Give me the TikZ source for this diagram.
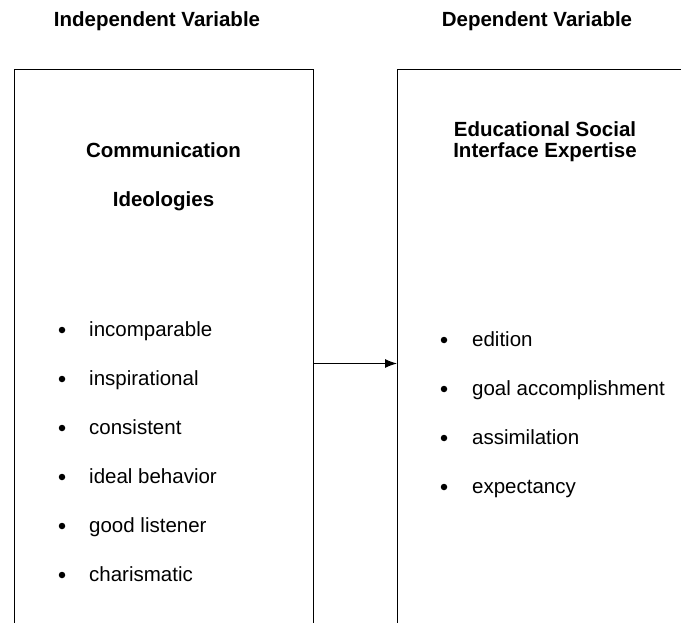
\documentclass[tikz,border=0pt]{standalone}
\usepackage{fontspec}
\setmainfont{Liberation Sans}
\usetikzlibrary{arrows.meta,positioning}

\tikzset{Boite/.style={draw,black,line width=1pt,rectangle,minimum width=299pt,minimum height=588pt,anchor=north west,inner sep=0pt}}
\tikzset{Titre/.style={font=\fontsize{20.5}{20}\selectfont\bfseries,anchor=base,inner sep=0pt}}
\tikzset{Item/.style={font=\fontsize{20.5}{20}\selectfont,anchor=base west,inner sep=0pt}}
\tikzset{Puce/.style={fill=black,circle,minimum size=6.5pt,inner sep=0pt}}

\begin{document}
\begin{tikzpicture}[x=1pt,y=-1pt]
\useasboundingbox (0,0) rectangle (681,623);
\clip (0,0) rectangle (681,623);

\node[Boite] (IV) at (14,69) {};
\node[Boite] (DV) at (397,69) {};

\node[Titre] (TIV) at (157,26.5) {Independent Variable};
\node[Titre] (TDV) at (537,26.5) {Dependent Variable};

\node[Titre] (C1) at (163.5,158) {Communication};
\node[Titre] (C2) at (163.5,207) {Ideologies};
\node[Titre] (E1) at (545,137) {Educational Social};
\node[Titre] (E2) at (545,158) {Interface Expertise};

\draw[-{Latex[length=12pt,width=9pt]},line width=1pt] (IV.east) -- (DV.west);

\foreach \txt [count=\i] in {incomparable,inspirational,consistent,ideal behavior,good listener,charismatic}{
  \node[Puce] (PL\i) at (62,{330+49*(\i-1)}) {};
  \node[Item] (L\i) at (89,{336+49*(\i-1)}) {\txt};
}
\foreach \txt [count=\i] in {edition,goal accomplishment,assimilation,expectancy}{
  \node[Puce] (PR\i) at (444,{340+49*(\i-1)}) {};
  \node[Item] (R\i) at (472,{346+49*(\i-1)}) {\txt};
}

\end{tikzpicture}
\end{document}
